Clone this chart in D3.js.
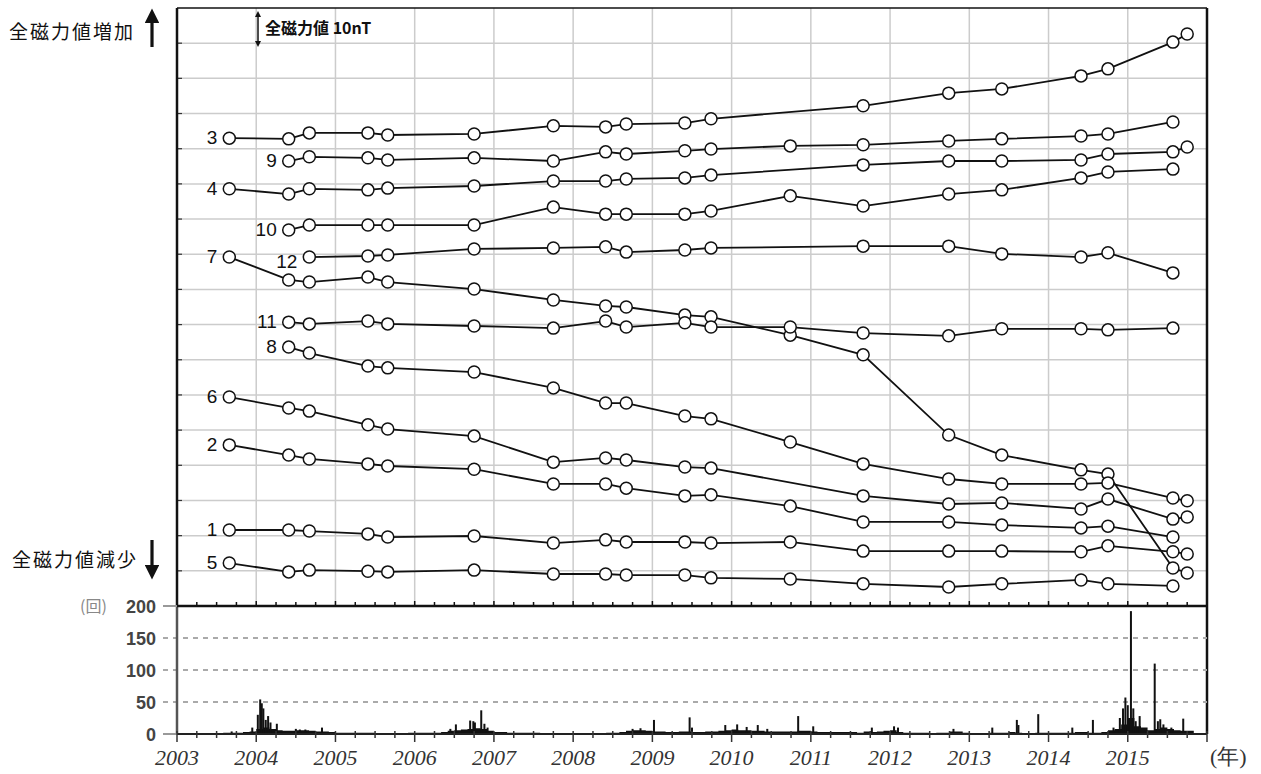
<!DOCTYPE html>
<html>
<head>
<meta charset="utf-8">
<script src="https://cdn.jsdelivr.net/npm/d3@7"></script>
<style>
  body { margin: 0; background: #fff; }
  svg { display: block; }
  .lbl { font-family: "Liberation Sans", Arial, sans-serif; font-size: 19px; fill: #111; }
  .jp { font-family: "Noto Sans CJK JP", sans-serif; fill: #111; }
  .cnt { font-family: "Liberation Sans", Arial, sans-serif; font-size: 18px; font-weight: bold; fill: #444; }
  .yr { font-family: "Liberation Serif", "Times New Roman", serif; font-size: 22px; font-style: italic; fill: #333; }
</style>
</head>
<body>
<div class="chart"></div>
<script>
//==================================
// Data
//==================================
// survey dates (decimal year)
var surveyDates = [2003.66, 2004.41, 2004.67, 2005.41, 2005.66, 2006.75, 2007.75, 2008.41, 2008.67,
  2009.41, 2009.74, 2010.74, 2011.66, 2012.74, 2013.41, 2014.41, 2014.75, 2015.57, 2015.75];

// relative total field (nT), one value per survey date, null = not measured
var site3  = [133.0, 132.8, 134.5, 134.5, 133.9, 134.2, 136.5, 136.2, 137.0, 137.3, 138.5, null, 142.2, 145.8, 147.0, 150.7, 152.7, 160.3, 162.6];
var site9  = [null, 126.5, 127.7, 127.4, 126.8, 127.4, 126.5, 129.1, 128.5, 129.4, 129.9, 130.8, 131.1, 132.2, 132.8, 133.6, 134.2, 137.6, null];
var site4  = [118.6, 117.1, 118.6, 118.3, 118.8, 119.4, 120.8, 120.8, 121.4, 121.7, 122.5, null, 125.4, 126.5, 126.5, 126.8, 128.5, 129.1, 130.5];
var site10 = [null, 106.9, 108.3, 108.3, 108.3, 108.3, 113.4, 111.4, 111.4, 111.4, 112.3, 116.6, 113.7, 117.1, 118.3, 121.7, 123.4, 124.2, null];
var site12 = [null, null, 99.2, 99.5, 99.8, 101.5, 101.8, 102.1, 100.6, 101.2, 101.8, null, 102.3, 102.3, 100.1, 99.2, 100.4, 94.7, null];
var site7  = [99.2, 92.7, 92.1, 93.5, 92.1, 90.1, 87.0, 85.3, 85.0, 82.7, 82.2, 77.0, 71.4, 48.6, 42.9, 38.7, 37.5, 10.8, 9.4];
var site11 = [null, 80.7, 80.2, 81.0, 80.2, 79.6, 79.0, 81.0, 79.3, 80.5, 79.3, 79.3, 77.6, 76.8, 78.8, 78.8, 78.5, 79.0, null];
var site8  = [null, 73.6, 71.9, 68.2, 67.7, 66.5, 62.0, 57.7, 57.7, 54.0, 53.2, 46.6, 40.4, 36.1, 34.7, 34.7, 35.0, 30.7, 29.9];
var site6  = [59.4, 56.3, 55.4, 51.5, 50.3, 48.3, 40.9, 42.1, 41.5, 39.5, 39.2, null, 31.3, 29.0, 29.3, 27.6, 30.4, 24.7, 25.3];
var site2  = [45.8, 42.9, 41.8, 40.4, 39.8, 38.9, 34.7, 34.7, 33.5, 31.3, 31.6, 28.4, 23.9, 23.9, 23.0, 22.2, 22.7, 19.6, null];
var site1  = [21.6, 21.6, 21.3, 20.5, 19.6, 19.9, 17.9, 18.8, 18.2, 18.2, 17.9, 18.2, 15.6, 15.6, 15.6, 15.4, 17.1, 15.4, 14.8];
var site5  = [12.2, 9.7, 10.2, 9.9, 9.7, 10.2, 9.1, 9.1, 8.8, 8.8, 8.0, 7.7, 6.3, 5.4, 6.3, 7.4, 6.3, 5.7, null];

var siteNames = ["3", "9", "4", "10", "12", "7", "11", "8", "6", "2", "1", "5"];
var siteValues = [site3, site9, site4, site10, site12, site7, site11, site8, site6, site2, site1, site5];

// earthquake counts: background level per month from 2003.0 ...
var monthlyCounts = [
  1, 1, 1, 1, 1, 1, 1, 2, 2, 2, 3, 4,      // 2003
  8, 10, 8, 6, 5, 5, 6, 6, 5, 4, 4, 3,     // 2004
  2, 2, 2, 2, 2, 2, 1, 1, 1, 1, 1, 2,      // 2005
  2, 2, 2, 2, 3, 5, 6, 7, 8, 9, 8, 5,      // 2006
  3, 3, 2, 2, 2, 2, 2, 1, 1, 1, 1, 1,      // 2007
  1, 1, 1, 1, 1, 2, 2, 3, 5, 6, 6, 5,      // 2008
  4, 4, 3, 3, 4, 4, 3, 3, 4, 4, 5, 6,      // 2009
  7, 6, 6, 5, 5, 4, 4, 4, 4, 4, 5, 5,      // 2010
  4, 3, 3, 3, 3, 3, 3, 2, 4, 3, 4, 5,      // 2011
  6, 3, 2, 2, 2, 2, 1, 2, 2, 4, 4, 2,      // 2012
  1, 1, 1, 2, 2, 2, 3, 2, 1, 1, 2, 2,      // 2013
  2, 2, 2, 2, 3, 3, 2, 2, 3, 6, 8, 15,     // 2014
  25, 12, 10, 6, 8, 10, 8, 6, 5, 5         // 2015
];
// ... and single days standing out above it
var spikeDates  = [2003.69, 2003.95, 2004.02, 2004.05, 2004.07, 2004.09, 2004.12, 2004.15, 2004.18, 2004.26,
  2004.50, 2004.55, 2004.62, 2004.83, 2006.45, 2006.52, 2006.70, 2006.74, 2006.76, 2006.84, 2006.88, 2006.92,
  2008.75, 2008.85, 2009.02, 2009.47, 2009.50, 2009.92, 2010.07, 2010.19, 2010.33, 2010.45, 2010.84, 2011.03,
  2011.77, 2012.05, 2012.10, 2012.80, 2013.29, 2013.60, 2013.62, 2013.87, 2014.30, 2014.56, 2014.82, 2014.90,
  2014.94, 2014.97, 2015.00, 2015.04, 2015.07, 2015.10, 2015.15, 2015.34, 2015.38, 2015.41, 2015.45, 2015.55, 2015.70];
var spikeCounts = [4, 10, 30, 54, 48, 40, 22, 28, 18, 16,
  8, 7, 7, 10, 8, 15, 21, 20, 18, 37, 16, 10,
  8, 9, 22, 26, 10, 14, 15, 11, 14, 8, 28, 12,
  10, 12, 10, 8, 10, 22, 14, 31, 10, 22, 10, 25,
  40, 57, 45, 192, 40, 20, 28, 110, 20, 23, 15, 10, 24];

var years = d3.range(2003, 2016);
var countTicks = [0, 50, 100, 150, 200];

//==================================
// Set up our chart
//==================================
var svgWidth = 1261;
var svgHeight = 774;

var left = 177, right = 1207;
var topY = 8, midY = 606, baseY = 734;

var svg = d3.select(".chart").append("svg")
  .attr("width", svgWidth)
  .attr("height", svgHeight);

var xScale = d3.scaleLinear().domain([2003, 2016]).range([left, right]);
var yScale = d3.scaleLinear().domain([0, 170]).range([midY, topY]);
var cScale = d3.scaleLinear().domain([0, 200]).range([baseY, midY]);

// grid of the upper panel
var grid = svg.append("g");
grid.selectAll(".vg").data(years.slice(1)).enter().append("line")
  .attr("x1", function(d) { return xScale(d); })
  .attr("x2", function(d) { return xScale(d); })
  .attr("y1", topY).attr("y2", midY)
  .attr("stroke", "#cccccc").attr("stroke-width", 1.5);
grid.selectAll(".hg").data(d3.range(10, 170, 10)).enter().append("line")
  .attr("x1", left).attr("x2", right)
  .attr("y1", function(d) { return yScale(d); })
  .attr("y2", function(d) { return yScale(d); })
  .attr("stroke", "#cccccc").attr("stroke-width", 1.5);
// short ticks on the left border
grid.selectAll(".lt").data(d3.range(10, 170, 10)).enter().append("line")
  .attr("x1", left).attr("x2", left + 5)
  .attr("y1", function(d) { return yScale(d); })
  .attr("y2", function(d) { return yScale(d); })
  .attr("stroke", "#333").attr("stroke-width", 1.2);

// quarter ticks standing on the panel's bottom edge
var quarters = d3.range(2003, 2016.01, 0.25);
svg.append("g").selectAll("line").data(quarters).enter().append("line")
  .attr("x1", function(d) { return xScale(d); })
  .attr("x2", function(d) { return xScale(d); })
  .attr("y1", midY)
  .attr("y2", function(d) { return d % 1 === 0 ? midY - 5 : midY - 4; })
  .attr("stroke", "#111").attr("stroke-width", 1.5);

// frame of the upper panel
svg.append("line").attr("x1", left).attr("x2", right).attr("y1", topY).attr("y2", topY)
  .attr("stroke", "#111").attr("stroke-width", 1.5);
svg.append("line").attr("x1", right).attr("x2", right).attr("y1", topY).attr("y2", baseY)
  .attr("stroke", "#111").attr("stroke-width", 2.5);
svg.append("line").attr("x1", left).attr("x2", left).attr("y1", topY).attr("y2", midY)
  .attr("stroke", "#111").attr("stroke-width", 2.5);

//==================================
// Total field lines
//==================================
var series = siteNames.map(function(name, i) {
  var pts = [];
  siteValues[i].forEach(function(v, j) {
    if (v !== null) pts.push({ t: surveyDates[j], v: v });
  });
  return { name: name, pts: pts };
});

var line = d3.line()
  .x(function(d) { return xScale(d.t); })
  .y(function(d) { return yScale(d.v); });

var chart = svg.append("g");
chart.selectAll("path").data(series).enter().append("path")
  .attr("d", function(d) { return line(d.pts); })
  .attr("fill", "none").attr("stroke", "#111").attr("stroke-width", 1.8);

series.forEach(function(s) {
  chart.append("g").selectAll("circle").data(s.pts).enter().append("circle")
    .attr("cx", function(d) { return xScale(d.t); })
    .attr("cy", function(d) { return yScale(d.v); })
    .attr("r", 6)
    .attr("fill", "#fff").attr("stroke", "#111").attr("stroke-width", 1.5);
});

// site number to the left of the first point
chart.selectAll(".lbl").data(series).enter().append("text")
  .attr("class", "lbl")
  .attr("x", function(d) { return xScale(d.pts[0].t) - 12; })
  .attr("y", function(d) { return yScale(d.pts[0].v) + (d.name === "12" ? 11 : 6); })
  .attr("text-anchor", "end")
  .text(function(d) { return d.name; });

//==================================
// Annotations
//==================================
var defs = svg.append("defs");
defs.append("marker").attr("id", "head").attr("viewBox", "0 0 10 10")
  .attr("refX", 5).attr("refY", 5).attr("markerWidth", 4).attr("markerHeight", 4)
  .attr("orient", "auto-start-reverse")
  .append("path").attr("d", "M0,0 L10,5 L0,10 z").attr("fill", "#111");
defs.append("marker").attr("id", "bighead").attr("viewBox", "0 0 10 10")
  .attr("refX", 2).attr("refY", 5).attr("markerWidth", 4.5).attr("markerHeight", 4.5)
  .attr("orient", "auto")
  .append("path").attr("d", "M0,0 L10,5 L0,10 z").attr("fill", "#111");

// 10 nT scale bar
svg.append("line").attr("x1", 258).attr("x2", 258).attr("y1", 14).attr("y2", 44)
  .attr("stroke", "#111").attr("stroke-width", 1.5)
  .attr("marker-start", "url(#head)").attr("marker-end", "url(#head)");
svg.append("text").attr("class", "jp").attr("x", 265).attr("y", 34)
  .attr("font-size", "16px").attr("font-weight", "bold")
  .text("全磁力値 10nT");

// increase / decrease arrows
svg.append("text").attr("class", "jp").attr("x", 9).attr("y", 39)
  .attr("font-size", "19px").attr("letter-spacing", "2px").text("全磁力値増加");
svg.append("line").attr("x1", 152).attr("x2", 152).attr("y1", 47).attr("y2", 20)
  .attr("stroke", "#111").attr("stroke-width", 3.2).attr("marker-end", "url(#bighead)");
svg.append("text").attr("class", "jp").attr("x", 12).attr("y", 567)
  .attr("font-size", "19px").attr("letter-spacing", "2px").text("全磁力値減少");
svg.append("line").attr("x1", 152).attr("x2", 152).attr("y1", 540).attr("y2", 568)
  .attr("stroke", "#111").attr("stroke-width", 3.2).attr("marker-end", "url(#bighead)");

//==================================
// Earthquake count panel
//==================================
var hist = svg.append("g");
hist.selectAll(".dg").data([50, 100, 150]).enter().append("line")
  .attr("x1", left - 14).attr("x2", right)
  .attr("y1", function(d) { return cScale(d); })
  .attr("y2", function(d) { return cScale(d); })
  .attr("stroke", "#aaa").attr("stroke-width", 2).attr("stroke-dasharray", "5,5");

var monthly = monthlyCounts.map(function(c, i) { return { t: 2003 + i / 12, c: c }; });
monthly.push({ t: 2003 + monthlyCounts.length / 12, c: 0 });
var area = d3.area()
  .curve(d3.curveStepAfter)
  .x(function(d) { return xScale(d.t); })
  .y0(cScale(0))
  .y1(function(d) { return cScale(d.c); });
hist.append("path").datum(monthly).attr("d", area).attr("fill", "#111");

hist.selectAll(".spike").data(spikeDates).enter().append("rect")
  .attr("x", function(d) { return xScale(d) - 1; })
  .attr("width", 2)
  .attr("y", function(d, i) { return cScale(spikeCounts[i]); })
  .attr("height", function(d, i) { return cScale(0) - cScale(spikeCounts[i]); })
  .attr("fill", "#111");

// left axis of the count panel
svg.append("line").attr("x1", left).attr("x2", left).attr("y1", midY).attr("y2", baseY)
  .attr("stroke", "#555").attr("stroke-width", 2.5);
svg.append("g").selectAll("line").data([0, 200]).enter().append("line")
  .attr("x1", left - 14).attr("x2", left)
  .attr("y1", function(d) { return cScale(d); })
  .attr("y2", function(d) { return cScale(d); })
  .attr("stroke", "#999").attr("stroke-width", 2);
svg.append("g").selectAll("text").data(countTicks).enter().append("text")
  .attr("class", "cnt")
  .attr("x", left - 21)
  .attr("y", function(d) { return cScale(d) + 7; })
  .attr("text-anchor", "end")
  .text(function(d) { return d; });
svg.append("text").attr("class", "jp").attr("x", 80).attr("y", 612)
  .attr("font-size", "16px").style("fill", "#888").text("(回)");

// bottom time axis
svg.append("line").attr("x1", left).attr("x2", right).attr("y1", baseY).attr("y2", baseY)
  .attr("stroke", "#222").attr("stroke-width", 2);
svg.append("g").selectAll("line").data(quarters).enter().append("line")
  .attr("x1", function(d) { return xScale(d); })
  .attr("x2", function(d) { return xScale(d); })
  .attr("y1", d3.min([baseY - 3]))
  .attr("y2", function(d) { return d % 1 === 0 ? baseY + 8 : baseY + 4; })
  .attr("stroke", "#333").attr("stroke-width", 1.5);
svg.append("g").selectAll("text").data(years).enter().append("text")
  .attr("class", "yr")
  .attr("x", function(d) { return xScale(d); })
  .attr("y", 765)
  .attr("text-anchor", "middle")
  .text(function(d) { return d; });
svg.append("text").attr("class", "yr").attr("x", 1210).attr("y", 764)
  .style("font-style", "normal").attr("font-size", "18px").text("(年)");

// thick dividing line between the panels
svg.append("line").attr("x1", left).attr("x2", right).attr("y1", midY).attr("y2", midY)
  .attr("stroke", "#111").attr("stroke-width", 2.5);
</script>
</body>
</html>
